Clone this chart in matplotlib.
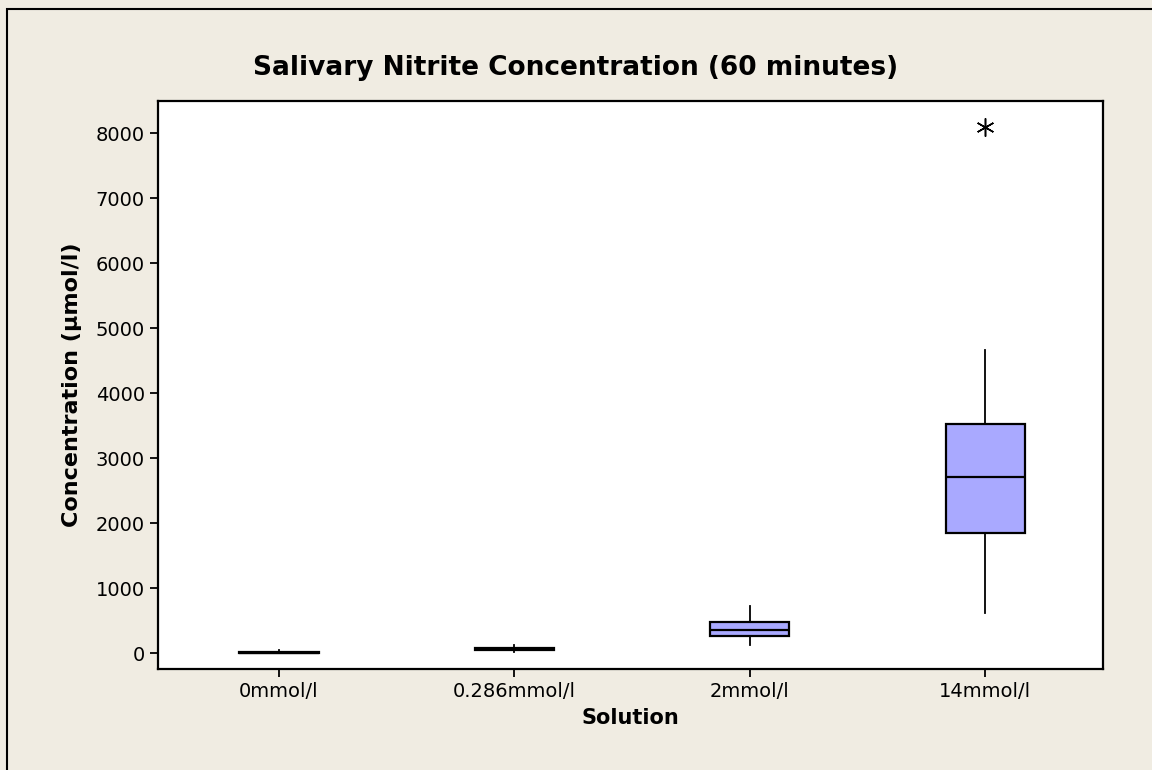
import matplotlib
matplotlib.use("Agg")
import matplotlib.pyplot as plt
from matplotlib.patches import Rectangle

# box plot summaries
solutions = ["0mmol/l", "0.286mmol/l", "2mmol/l", "14mmol/l"]
whisker_low = [0, 25, 128, 620]
q1 = [0, 55, 271, 1851]
median = [10, 71, 358, 2712]
q3 = [25, 85, 486, 3528]
whisker_high = [45, 132, 728, 4666]
outliers = [[], [], [], [8090]]

BG = "#F0ECE2"
BOX = "#A9A9FF"

stats = []
for i in range(len(solutions)):
    stats.append({
        "label": solutions[i],
        "whislo": whisker_low[i],
        "q1": q1[i],
        "med": median[i],
        "q3": q3[i],
        "whishi": whisker_high[i],
        "fliers": outliers[i],
    })

fig = plt.figure(figsize=(11.52, 7.7), dpi=100, facecolor=BG)
ax = fig.add_axes([158 / 1152, 1 - 669 / 770, 945 / 1152, 568 / 770])

ax.bxp(stats, widths=0.336, patch_artist=True, showcaps=False,
       boxprops=dict(facecolor=BOX, edgecolor="black", linewidth=1.6),
       medianprops=dict(color="black", linewidth=1.6),
       whiskerprops=dict(color="black", linewidth=1.3),
       flierprops=dict(marker=(6, 2, 0), markersize=13, markeredgecolor="black",
                       markeredgewidth=1.1, linestyle="none"))

ax.set_xlim(0.486, 4.5)
ax.set_ylim(-240, 8497)
ax.set_yticks([0, 1000, 2000, 3000, 4000, 5000, 6000, 7000, 8000])
ax.tick_params(axis="both", direction="out", length=6, width=1.3, labelsize=14,
               colors="black")
for s in ax.spines.values():
    s.set_linewidth(1.6)

ax.set_xlabel("Solution", fontsize=15, fontweight="bold", labelpad=5)
ax.set_ylabel("Concentration (µmol/l)", fontsize=16, fontweight="bold", labelpad=10)
fig.text(0.5, 1 - 68 / 770, "Salivary Nitrite Concentration (60 minutes)",
         ha="center", va="center", fontsize=19, fontweight="bold")

# outer frame of the graph window
fig.patches.append(Rectangle((7 / 1152, -0.1), 1.2, 1.1 - 9 / 770, transform=fig.transFigure,
                             fill=False, edgecolor="black", linewidth=1.5))

fig.savefig("out.png", dpi=100, facecolor=BG)
